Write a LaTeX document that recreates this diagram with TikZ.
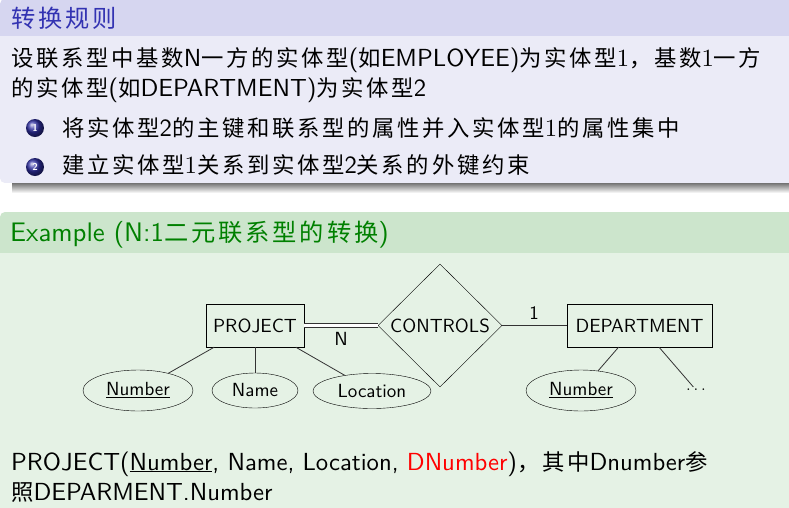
\documentclass[tikz,border=0pt]{standalone}
\usepackage{fontspec}
\usepackage{tikz}
\usetikzlibrary{shapes.geometric,positioning}
\setsansfont[BoldFont=lmsans10-bold.otf]{lmsans10-regular.otf}
\setmainfont[BoldFont=lmroman10-bold.otf]{lmroman10-regular.otf}
\newfontfamily\cjk[Scale=0.905,LetterSpace=12]{Noto Sans CJK SC}
\newcommand{\zh}[1]{{\cjk #1}}
\newcommand{\one}{{\rmfamily 1}}
\definecolor{struct}{rgb}{0.2,0.2,0.7}
\definecolor{exgreen}{rgb}{0,0.5,0}

\begin{document}
\begin{tikzpicture}[x=1pt,y=-1pt,
		txt/.style={anchor=base west,inner sep=0,font=\sffamily\fontsize{24.7}{30}\selectfont},
		ttl/.style={txt,font=\sffamily\fontsize{26.8}{30}\selectfont},
		ball/.style={circle,shade,ball color=struct!90!black,text=white,minimum size=18,inner sep=0,font=\sffamily\bfseries\fontsize{10}{10}\selectfont},
		entity/.style={draw,minimum width=98,minimum height=43,inner sep=0,font=\sffamily\fontsize{19}{22}\selectfont},
		rel/.style={draw,diamond,aspect=1,minimum width=124,minimum height=123,inner sep=0,font=\sffamily\fontsize{19}{22}\selectfont},
		attr/.style={draw,ellipse,minimum height=35,inner sep=0,font=\sffamily\fontsize{19}{22}\selectfont},
		lbl/.style={inner sep=0,font=\sffamily\fontsize{19}{22}\selectfont},
		conn/.style={black!80,line width=0.8}]
	\useasboundingbox (0,0) rectangle (789,507);
	\fill[white] (0,0) rectangle (789,507);
	% rule block
	\shade[top color=black!55,bottom color=white] (12,183) rectangle (800,193);
	\begin{scope}
		\clip[rounded corners=5] (0,-1) rectangle (820,183);
		\fill[struct!20] (0,-1) rectangle (820,36);
		\fill[struct!10] (0,36) rectangle (820,183);
	\end{scope}
	\node[ttl,text=struct] (rtitle) at (11,27) {\zh{转换规则}};
	\node[txt] (r1) at (11,66) {\zh{设联系型中基数}N\zh{一方的实体型}(\zh{如}EMPLOYEE)\zh{为实体型}\one\zh{，基数}\one\zh{一方}};
	\node[txt] (r2) at (11,96) {\zh{的实体型}(\zh{如}DEPARTMENT)\zh{为实体型}2};
	\node[ball] (b1) at (35,128) {1};
	\node[txt] (i1) at (62,136) {\zh{将实体型}2\zh{的主键和联系型的属性并入实体型}\one\zh{的属性集中}};
	\node[ball] (b2) at (35,167) {2};
	\node[txt] (i2) at (62,173) {\zh{建立实体型}\one\zh{关系到实体型}2\zh{关系的外键约束}};
	% example block
	\begin{scope}
		\clip[rounded corners=5] (0,212) rectangle (820,540);
		\fill[exgreen!20] (0,212) rectangle (820,253);
		\fill[exgreen!10] (0,253) rectangle (820,540);
	\end{scope}
	\node[ttl,text=exgreen] (etitle) at (10,241) {Example (N:1\zh{二元联系型的转换})};
	\node[entity] (proj) at (255,325.5) {PROJECT};
	\node[rel] (ctrl) at (440,325.5) {CONTROLS};
	\node[entity,minimum width=145] (dept) at (639.5,325.5) {DEPARTMENT};
	\node[attr,minimum width=110,minimum height=41] (pnum) at (138,390.5) {\underline{Number}};
	\node[attr,minimum width=86] (pname) at (255,390.5) {Name};
	\node[attr,minimum width=118] (ploc) at (372,391) {Location};
	\node[attr,minimum width=110,minimum height=41] (dnum) at (581,390.5) {\underline{Number}};
	\node[lbl,inner sep=2] (more) at (696,390) {$\ldots$};
	\node[lbl] (n) at (341,338.5) {N};
	\node[lbl] (one) at (534,313) {1};
	\draw[conn,double,double distance=3] (proj) -- (ctrl);
	\draw[conn] (ctrl) -- (dept);
	\draw[conn] (proj.208) -- (pnum);
	\draw[conn] (proj) -- (pname);
	\draw[conn] (proj.332) -- (ploc);
	\draw[conn] (dept.226) -- (dnum);
	\draw[conn] (dept.312) -- (more);
	\node[txt] (s1) at (11,470) {PROJECT(\underline{Number}, Name, Location, \textcolor{red}{DNumber})\zh{，其中}Dnumber\zh{参}};
	\node[txt] (s2) at (11,500) {\zh{照}DEPARMENT.Number};
\end{tikzpicture}
\end{document}
